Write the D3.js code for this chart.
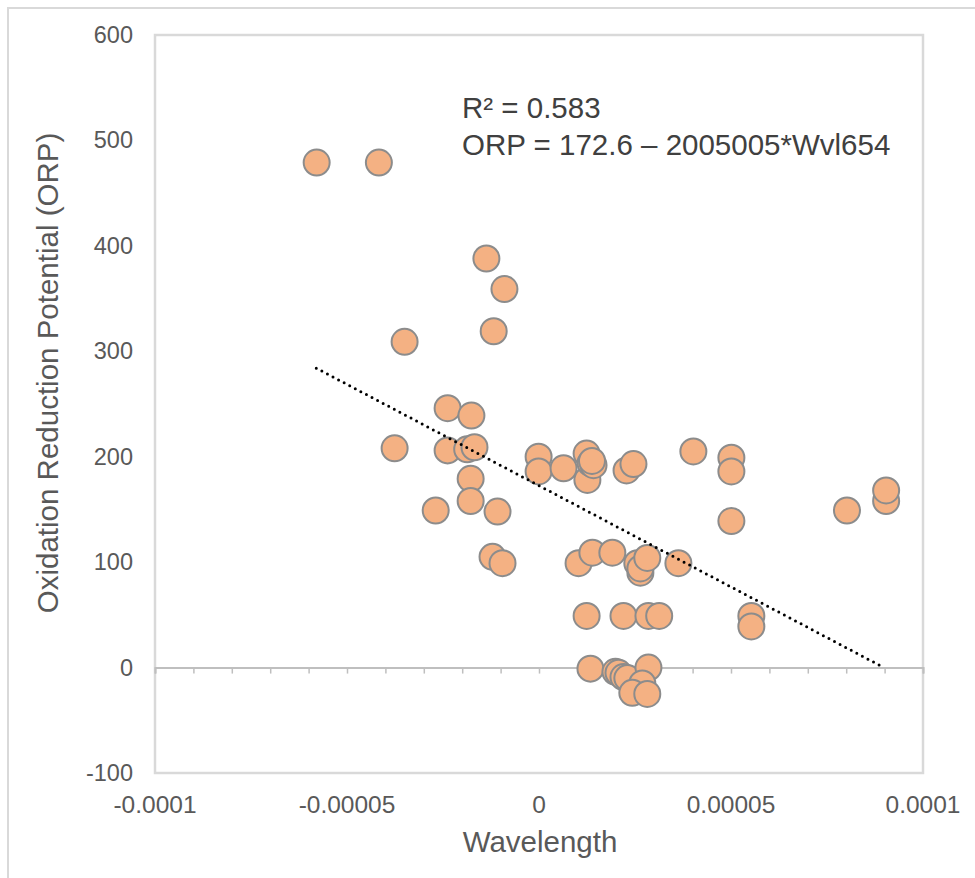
<!DOCTYPE html>
<html>
<head>
<meta charset="utf-8">
<script src="https://cdn.jsdelivr.net/npm/d3@7"></script>
<style>
  html, body { margin: 0; padding: 0; background: #fff; }
  svg { display: block; font-family: "Liberation Sans", Arial, sans-serif; }
</style>
</head>
<body>
<svg id="chart" width="975" height="878"></svg>
<script>
'use strict';

// ─────────────────────────────────────────────────────────────
// ORP vs Wavelength — scatter + linear trendline (Excel style)
// ─────────────────────────────────────────────────────────────

// wavelength values
const wavelength = [
  -5.79e-5, -4.17e-5, -1.37e-5, -0.90e-5, -1.18e-5, -3.50e-5, -2.38e-5, -1.76e-5,
  -3.76e-5, -2.38e-5, -1.87e-5, -1.68e-5, -1.78e-5, -1.78e-5, -2.69e-5, -1.08e-5,
  -1.21e-5, -0.95e-5, -0.01e-5, -0.01e-5, 0.64e-5, 1.24e-5, 1.26e-5, 1.34e-5,
  1.42e-5, 1.38e-5, 2.28e-5, 2.46e-5, 4.02e-5, 5.01e-5, 5.01e-5, 5.01e-5,
  8.02e-5, 9.04e-5, 9.04e-5, 1.03e-5, 1.39e-5, 1.91e-5, 2.56e-5, 2.64e-5,
  2.64e-5, 2.82e-5, 3.63e-5, 1.24e-5, 2.20e-5, 2.85e-5, 3.13e-5, 5.53e-5,
  5.53e-5, 1.34e-5, 1.99e-5, 2.07e-5, 2.20e-5, 2.30e-5, 2.85e-5, 2.69e-5,
  2.43e-5, 2.82e-5
];

// oxidation reduction potential, same order
const orp = [
  479, 479, 388, 359, 319, 309, 246, 239,
  208, 206, 207, 209, 179, 158, 149, 148,
  105, 99, 200, 186, 189, 203, 178, 194,
  192, 196, 187, 193, 205, 199, 186, 139,
  149, 158, 168, 99, 109, 109, 99, 90,
  94, 104, 99, 49, 49, 49, 49, 49,
  39, -1, -4, -5, -9, -10, 0, -15,
  -24, -25
];

// trendline ends as drawn in the picture
const trendX = [-5.8e-5, 8.93e-5];
const trendY = [284, 1];

const xTicks = [-0.0001, -0.00005, 0, 0.00005, 0.0001];
const xTickLabels = ['-0.0001', '-0.00005', '0', '0.00005', '0.0001'];
const xMinorTicks = d3.range(-10, 11).map(i => i * 1e-5);
const yTicks = [-100, 0, 100, 200, 300, 400, 500, 600];

const eqLines = ['R\u00b2 = 0.583', 'ORP = 172.6 \u2013 2005005*Wvl654'];

const svg = d3.select('#chart');
const plot = { left: 155, right: 923, top: 35, bottom: 773 };

const x = d3.scaleLinear().domain([-0.0001, 0.0001]).range([plot.left, plot.right]);
const y = d3.scaleLinear().domain([-100, 600]).range([plot.bottom, plot.top]);

// outer chart border (runs off the right / bottom edge)
svg.append('rect')
  .attr('x', 8).attr('y', 8)
  .attr('width', 990).attr('height', 900)
  .attr('fill', 'none')
  .attr('stroke', '#d9d9d9')
  .attr('stroke-width', 2);

// plot area border
svg.append('rect')
  .attr('x', plot.left).attr('y', plot.top)
  .attr('width', plot.right - plot.left)
  .attr('height', plot.bottom - plot.top)
  .attr('fill', 'none')
  .attr('stroke', '#d9d9d9')
  .attr('stroke-width', 2.5);

// x axis sits on y = 0, labels sit below the plot
const xAxisG = svg.append('g')
  .attr('transform', `translate(0,${y(0)})`)
  .call(d3.axisBottom(x).tickValues(xMinorTicks).tickSize(6).tickFormat(''));
xAxisG.select('.domain').attr('stroke', '#bfbfbf').attr('stroke-width', 2);
xAxisG.selectAll('.tick line').attr('stroke', '#bfbfbf').attr('stroke-width', 1.5);

svg.append('g')
  .selectAll('text')
  .data(xTicks)
  .join('text')
  .attr('x', d => x(d))
  .attr('y', 813)
  .attr('text-anchor', 'middle')
  .attr('fill', '#595959')
  .attr('font-size', 24.5)
  .text((d, i) => xTickLabels[i]);

svg.append('g')
  .selectAll('text')
  .data(yTicks)
  .join('text')
  .attr('x', 133)
  .attr('y', d => y(d) + 8)
  .attr('text-anchor', 'end')
  .attr('fill', '#595959')
  .attr('font-size', 23.5)
  .text(d => d);

// axis titles
svg.append('text')
  .attr('x', 540).attr('y', 852)
  .attr('text-anchor', 'middle')
  .attr('fill', '#595959')
  .attr('font-size', 29.5)
  .text('Wavelength');

svg.append('text')
  .attr('transform', 'translate(58,373) rotate(-90)')
  .attr('text-anchor', 'middle')
  .attr('fill', '#595959')
  .attr('font-size', 29.5)
  .text('Oxidation Reduction Potential (ORP)');

// markers
const points = wavelength.map((w, i) => ({ w, v: orp[i] }));
svg.append('g')
  .selectAll('circle')
  .data(points)
  .join('circle')
  .attr('cx', d => x(d.w))
  .attr('cy', d => y(d.v))
  .attr('r', 13)
  .attr('fill', '#f4b183')
  .attr('stroke', '#8c8c8c')
  .attr('stroke-width', 2);

// dotted trendline on top
const trend = trendX.map((w, i) => [w, trendY[i]]);
svg.append('path')
  .datum(trend)
  .attr('d', d3.line().x(d => x(d[0])).y(d => y(d[1])))
  .attr('fill', 'none')
  .attr('stroke', '#000')
  .attr('stroke-width', 3)
  .attr('stroke-linecap', 'round')
  .attr('stroke-dasharray', '0 6.3');

// trendline label
svg.append('g')
  .selectAll('text')
  .data(eqLines)
  .join('text')
  .attr('x', 462)
  .attr('y', (d, i) => 118 + i * 37)
  .attr('fill', '#404040')
  .attr('font-size', 29.5)
  .text(d => d);
</script>
</body>
</html>
